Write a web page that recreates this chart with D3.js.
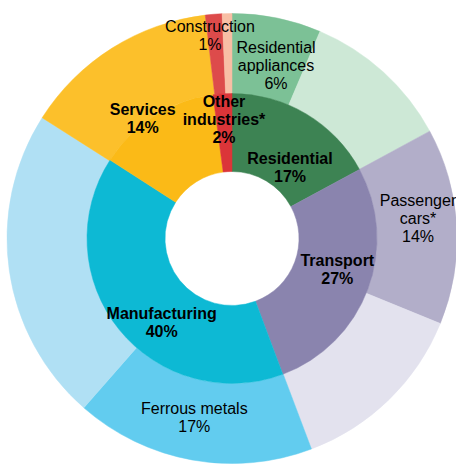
<!DOCTYPE html>
<html>
<head>
<meta charset="utf-8">
<script src="https://cdn.jsdelivr.net/npm/d3@7"></script>
<style>
  html, body { margin: 0; padding: 0; background: #fff; }
  svg { display: block; }
  text { font-family: "Liberation Sans", Arial, sans-serif; font-size: 16px; fill: #000; }
</style>
</head>
<body>
<svg id="chart" width="456" height="464"></svg>
<script>
// ---- data ----
const sectors = ["Residential", "Transport", "Manufacturing", "Services", "Other industries*"];
const sectorValues = [17.1, 27.2, 39.8, 13.8, 2.1];
const sectorColors = ["#3d8353", "#8a84ae", "#0db9d4", "#fbba17", "#db3539"];

const subParents = ["Residential", "Residential", "Transport", "Transport", "Manufacturing", "Manufacturing", "Services", "Other industries*", "Other industries*"];
const subNames = ["Residential appliances", "Other residential", "Passenger cars*", "Other transport", "Ferrous metals", "Other manufacturing", "Services", "Construction", "Other"];
const subValues = [6.4, 10.7, 14.1, 13.1, 17.2, 22.6, 14.1, 1.2, 0.7];
const subColors = ["#7cc196", "#cde8d6", "#b2aec9", "#e3e2ee", "#62ccef", "#b0e0f4", "#fcc02b", "#dd4b4b", "#f8bfa5"];

// label text lines (percent labels as shown)
const innerLabels = {
  "Residential": ["Residential", "17%"],
  "Transport": ["Transport", "27%"],
  "Manufacturing": ["Manufacturing", "40%"],
  "Services": ["Services", "14%"],
  "Other industries*": ["Other", "industries*", "2%"]
};
const outerLabels = {
  "Residential appliances": ["Residential", "appliances", "6%"],
  "Passenger cars*": ["Passenger", "cars*", "14%"],
  "Ferrous metals": ["Ferrous metals", "17%"],
  "Construction": ["Construction", "1%"]
};

// ---- layout ----
const W = 456, H = 464;
const cx = 232, cy = 238.5;
const rHole = 67, rMid = 145, rOuter = 225;
const lineH = 18;
// label anchor: offset from chart centre to first baseline (text layout only)
const labelAnchor = {
  "Residential": [58, -74.5],
  "Transport": [105.3, 27.2],
  "Manufacturing": [-70.3, 80.5],
  "Services": [-89.3, -123.5],
  "Other industries*": [-8, -131.2],
  "Residential appliances": [44, -185.5],
  "Passenger cars*": [186, -32.5],
  "Ferrous metals": [-37.7, 175.8],
  "Construction": [-22, -206.5]
};

const svg = d3.select("#chart");
const g = svg.append("g").attr("transform", `translate(${cx},${cy})`);

const pie = d3.pie().sort(null).value(d => d.value);

const innerData = pie(sectors.map((s, i) => ({ name: s, value: sectorValues[i], color: sectorColors[i] })));
const outerData = pie(subNames.map((s, i) => ({ name: s, parent: subParents[i], value: subValues[i], color: subColors[i] })));

const innerArc = d3.arc().innerRadius(rHole).outerRadius(rMid);
const outerArc = d3.arc().innerRadius(rMid).outerRadius(rOuter);

g.selectAll("path.outer").data(outerData).join("path")
  .attr("class", "outer")
  .attr("d", outerArc)
  .attr("fill", d => d.data.color)
  .attr("stroke", d => d.data.color)
  .attr("stroke-width", 0.5);

g.selectAll("path.inner").data(innerData).join("path")
  .attr("class", "inner")
  .attr("d", innerArc)
  .attr("fill", d => d.data.color)
  .attr("stroke", d => d.data.color)
  .attr("stroke-width", 0.5);

function drawLabel(name, lines, bold) {
  const a = labelAnchor[name];
  const t = g.append("text")
    .attr("text-anchor", "middle")
    .attr("font-weight", bold ? "bold" : "normal");
  lines.forEach((ln, i) => {
    t.append("tspan").attr("x", a[0]).attr("y", a[1] + i * lineH).text(ln);
  });
}

outerData.forEach(d => { if (outerLabels[d.data.name]) drawLabel(d.data.name, outerLabels[d.data.name], false); });
innerData.forEach(d => drawLabel(d.data.name, innerLabels[d.data.name], true));
</script>
</body>
</html>
